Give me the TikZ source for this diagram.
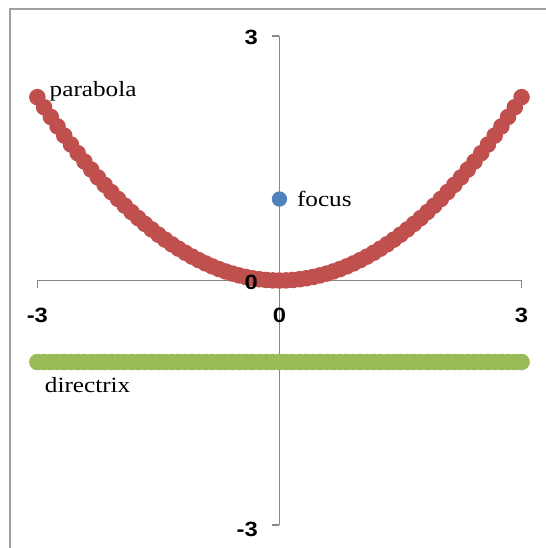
\documentclass[tikz,border=0pt]{standalone}
\usepackage{fontspec}
\setmainfont[FakeStretch=1.16]{Liberation Serif}
\newfontfamily\numfont[FakeStretch=1.15]{Liberation Sans}
\usepackage{tikz}
\usetikzlibrary{positioning}
\definecolor{parabred}{RGB}{192,80,77}
\definecolor{directgreen}{RGB}{155,187,89}
\definecolor{focusblue}{RGB}{79,129,189}
\definecolor{axisgrey}{RGB}{134,134,134}
\definecolor{framegrey}{RGB}{160,160,160}

\begin{document}
\begin{tikzpicture}[
        x=60.5pt, y=61.1pt,
        axis/.style={draw=axisgrey, line width=1.1pt},
        ticklbl/.style={font=\numfont\fontsize{15.5}{18}\selectfont\bfseries, inner sep=0pt},
        lbl/.style={font=\fontsize{16.3}{18}\selectfont, inner sep=0pt},
        dot/.style={circle, inner sep=0pt, minimum size=11.5pt},
      ]
      \useasboundingbox (-3.463,-3.282) rectangle (3.302,3.442);
      % chart frame, only top and left are visible
      \draw[framegrey, line width=1.6pt] (-3.340,-3.4) -- (-3.340,3.331) -- (3.4,3.331);

      % axes
      \draw[axis] (-3,0) -- (3,0);
      \draw[axis] (0,-3) -- (0,3);
      \foreach \t in {-3,0,3} {
        \draw[axis] (\t,0) -- ++(0,-5.5pt);
        \draw[axis] (0,\t) -- ++(-5.5pt,0);
      }

      % series
      \foreach \i in {-36,...,36}
        \fill[directgreen] ({\i/12},-1) circle (6.2pt);
      \foreach \i in {-36,...,36}
        \fill[parabred] ({\i/12},{(\i/12)^2/4}) circle (6.2pt);
      \node[dot, fill=focusblue] (focus) at (0,1) {};

      % axis labels
      \node[ticklbl] (xlo) at (-3,-0.43) {-3};
      \node[ticklbl] (xmid) at (0,-0.43) {0};
      \node[ticklbl] (xhi) at (3,-0.43) {3};
      \node[ticklbl, anchor=east] (yhi) at ([xshift=-16pt, yshift=-1pt]0,3) {3};
      \node[ticklbl, anchor=east] (ymid) at ([xshift=-16pt, yshift=-1.5pt]0,0) {0};
      \node[ticklbl, anchor=east] (ylo) at ([xshift=-16pt, yshift=-3pt]0,-3) {-3};

      % series labels
      \node[lbl, anchor=west] (parablbl) at (-2.85,2.319) {parabola};
      \node[lbl, right=7pt of focus] (focuslbl) {focus};
      \node[lbl, anchor=west] (directlbl) at (-2.91,-1.282) {directrix};
    \end{tikzpicture}
\end{document}
